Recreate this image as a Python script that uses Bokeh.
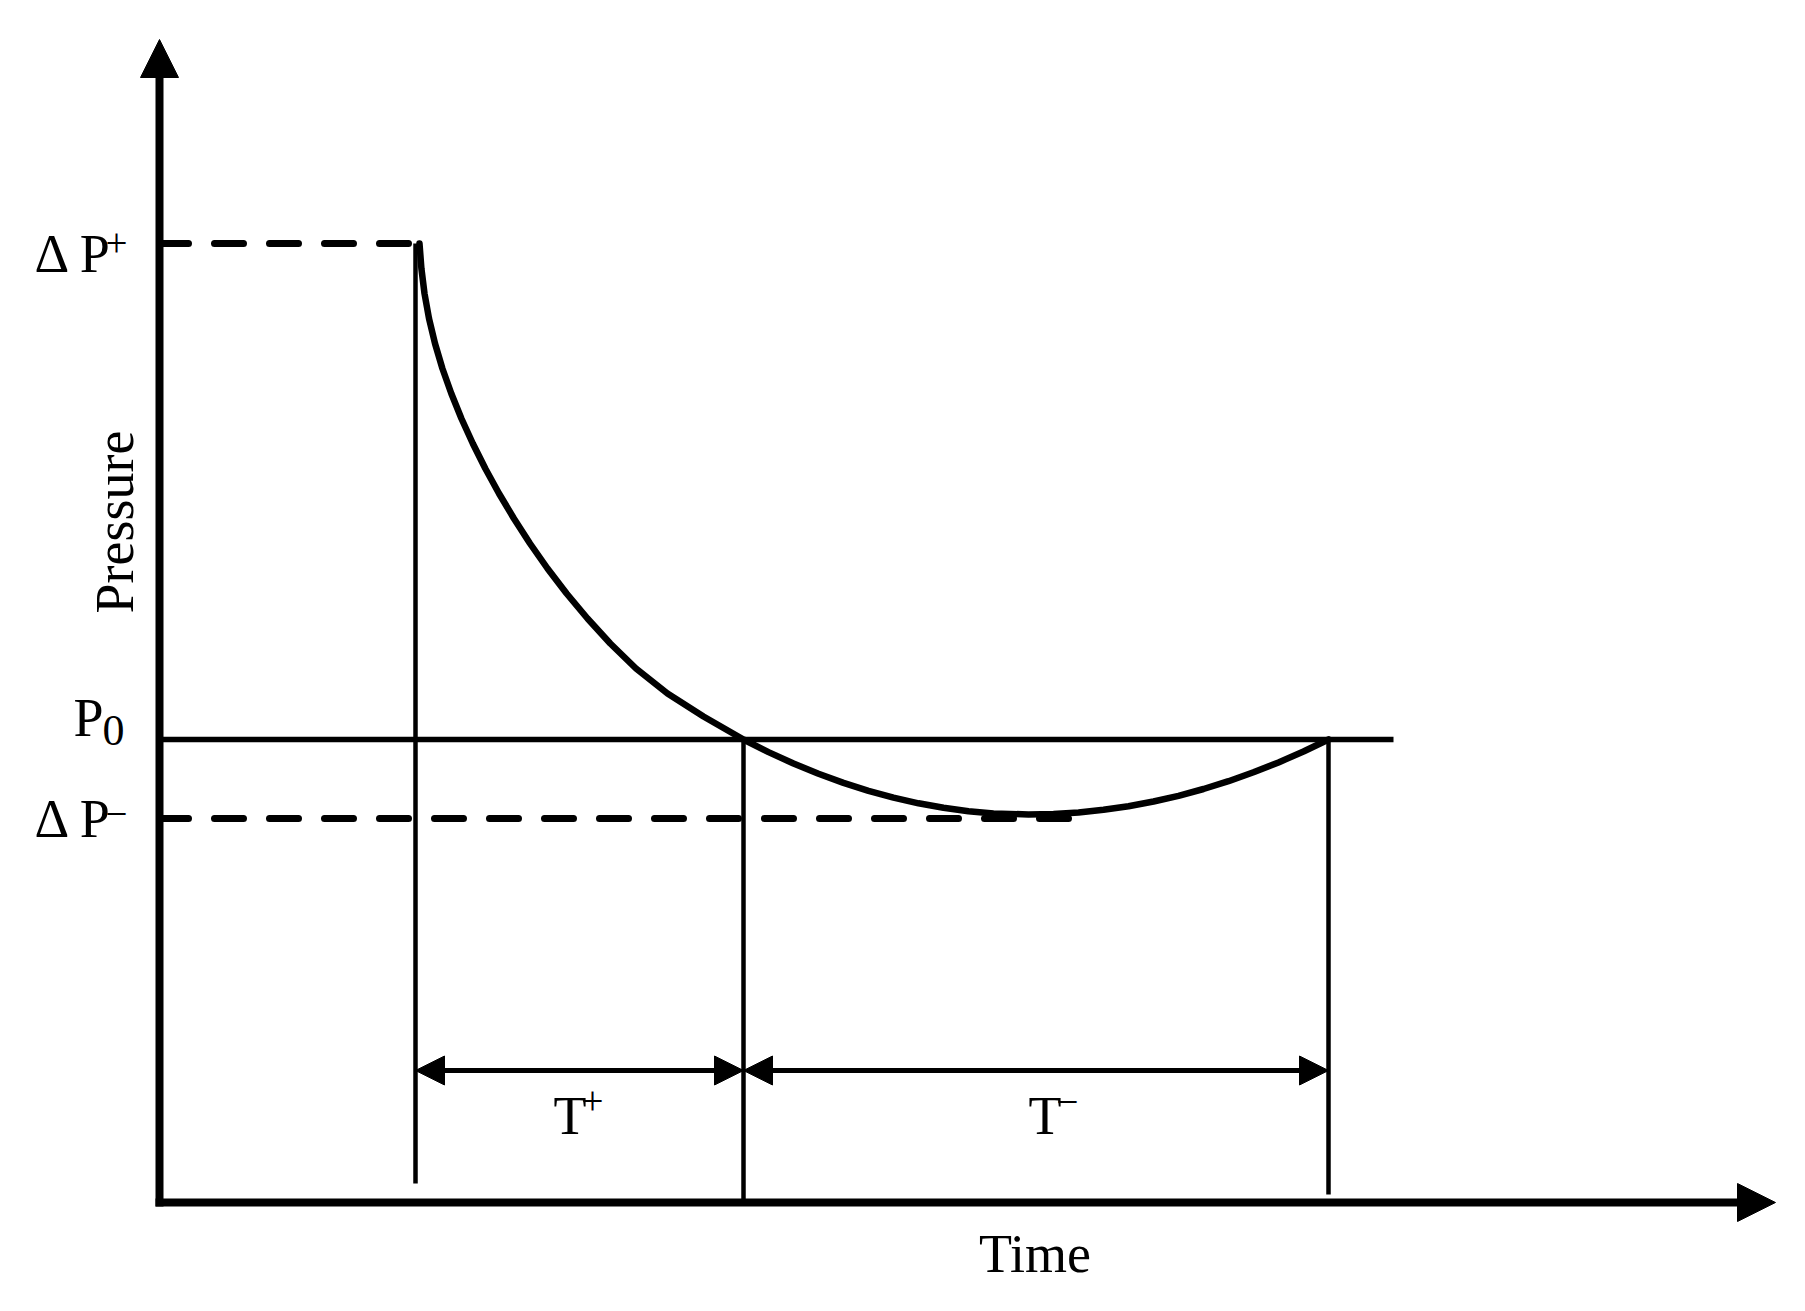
import numpy as np
from bokeh.plotting import figure
from bokeh.models import Range1d, Arrow, NormalHead
from bokeh.core.properties import value
from bokeh.embed import file_html
from bokeh.resources import INLINE

# ---------------- data (schematic units: time on x, pressure on y) ----------------
# positive phase (decay from ΔP+ down to P0)
pos_time = [2.60, 2.619, 2.65, 2.695, 2.755, 2.829, 2.918, 3.019, 3.133, 3.258, 3.395,
            3.544, 3.705, 3.88, 4.071, 4.28, 4.508, 4.765, 5.08, 5.44, 5.84]
pos_pressure = [9.59, 9.34, 9.09, 8.84, 8.59, 8.34, 8.09, 7.84, 7.59, 7.34, 7.09,
                6.84, 6.59, 6.34, 6.09, 5.84, 5.59, 5.34, 5.09, 4.86, 4.63]
# negative phase (dip below P0 and recovery)
neg_time = [6.09, 6.34, 6.59, 6.84, 7.09, 7.34, 7.59, 7.84, 8.09, 8.34, 8.69,
            8.94, 9.19, 9.44, 9.69, 9.94, 10.19, 10.44, 10.69, 10.94, 11.19, 11.44, 11.69]
neg_pressure = [4.504, 4.39, 4.287, 4.196, 4.116, 4.048, 3.992, 3.947, 3.913, 3.891, 3.88,
                3.885, 3.901, 3.927, 3.963, 4.01, 4.067, 4.135, 4.213, 4.302, 4.401, 4.51, 4.63]

p0_level = 4.63          # ambient pressure P0
dp_plus_level = 9.59     # peak overpressure ΔP+
dp_minus_level = 3.84    # peak underpressure ΔP-

t_arrival = 2.56         # start of positive phase
t_cross = 5.84           # end of positive phase
t_end = 11.69            # end of negative phase

time_axis_end = 16.16
pressure_axis_end = 11.63
p0_line_end = 12.34
dp_minus_line_end = 9.09
marker_bottoms = [0.19, 0.0, 0.08]
duration_level = 1.32

main_labels = ["Δ P", "P", "Δ P", "T", "T", "Time"]
main_label_t = [-1.25, -0.86, -1.25, 3.94, 8.69, 8.755]
main_label_p = [9.49, 4.85, 3.84, 0.87, 0.87, -0.51]
main_label_align = ["left", "left", "left", "left", "left", "center"]

small_labels = ["+", "0", "−", "+", "−"]
small_label_t = [-0.54, -0.57, -0.54, 4.22, 8.97]
small_label_p = [9.60, 4.72, 3.89, 1.02, 1.01]
small_label_size = ["39px", "44px", "39px", "39px", "39px"]

curve_time = pos_time + neg_time
curve_pressure = pos_pressure + neg_pressure

# ---------------- figure ----------------
FONT = value("Liberation Serif")

p = figure(width=1805, height=1311,
           x_range=Range1d(-1.59, 16.46), y_range=Range1d(-1.09, 12.02),
           output_backend="svg", toolbar_location=None, min_border=0,
           x_axis_location=None, y_axis_location=None)
p.grid.visible = False
p.outline_line_color = None
p.background_fill_color = "white"
p.border_fill_color = "white"

# axes with arrow heads
p.add_layout(Arrow(end=NormalHead(size=38, fill_color="black", line_color="black", line_width=1),
                   x_start=-0.04, y_start=0.0, x_end=time_axis_end, y_end=0.0,
                   line_width=8, line_color="black"))
p.add_layout(Arrow(end=NormalHead(size=38, fill_color="black", line_color="black", line_width=1),
                   x_start=0.0, y_start=-0.04, x_end=0.0, y_end=pressure_axis_end,
                   line_width=8, line_color="black"))

# ambient pressure line P0
p.segment(x0=[0.0], y0=[p0_level], x1=[p0_line_end], y1=[p0_level],
          line_width=5.5, line_color="black")

# dashed reference lines for ΔP+ and ΔP-
p.segment(x0=[0.0, 0.0], y0=[dp_plus_level, dp_minus_level],
          x1=[t_arrival, dp_minus_line_end], y1=[dp_plus_level, dp_minus_level],
          line_width=7, line_color="black", line_dash="29 26", line_cap="round")

# vertical event markers
p.segment(x0=[t_arrival, t_cross, t_end], y0=[dp_plus_level, p0_level, p0_level],
          x1=[t_arrival, t_cross, t_end], y1=marker_bottoms,
          line_width=4.5, line_color="black")

# pressure-time curve
p.line(curve_time, curve_pressure, line_width=6.5, line_color="black",
       line_join="round", line_cap="round")

# duration arrows T+ and T-
for a, b in [(t_arrival, t_cross), (t_cross, t_end)]:
    p.add_layout(Arrow(start=NormalHead(size=29, fill_color="black", line_color="black", line_width=1),
                       end=NormalHead(size=29, fill_color="black", line_color="black", line_width=1),
                       x_start=a, y_start=duration_level, x_end=b, y_end=duration_level,
                       line_width=5, line_color="black"))

# labels
p.text(x=main_label_t, y=main_label_p, text=main_labels, text_align=main_label_align,
       text_baseline="alphabetic", text_font=FONT, text_font_size="54px", text_color="black")
p.text(x=small_label_t, y=small_label_p, text=small_labels, text_align="left",
       text_baseline="alphabetic", text_font=FONT, text_font_size=small_label_size,
       text_color="black")
p.text(x=[-0.45], y=[6.805], text=["Pressure"], angle=np.pi / 2, text_align="center",
       text_baseline="alphabetic", text_font=FONT, text_font_size="54px", text_color="black")

open("out.html", "w").write(file_html(p, INLINE))
